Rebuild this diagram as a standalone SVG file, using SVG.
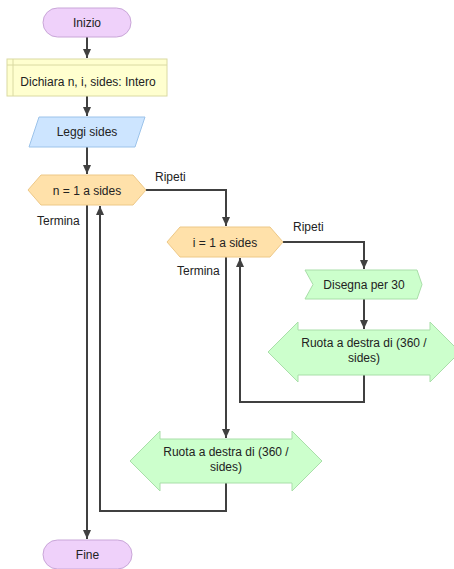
<svg xmlns="http://www.w3.org/2000/svg" width="454" height="569" viewBox="0 0 454 569">
<defs>
<marker id="arr" markerUnits="userSpaceOnUse" markerWidth="10" markerHeight="10" viewBox="0 0 10 10" refX="9" refY="5" orient="auto">
<path d="M0,1 L9,5 L0,9 Z" fill="#404040"/>
</marker>
<style>
text{font-family:"Liberation Sans",Arial,sans-serif;font-size:12px;fill:#222;}
.c{text-anchor:middle;}
.ln{fill:none;stroke:#404040;stroke-width:2;}
.term{fill:#EFD1FA;stroke:#C9A6D8;stroke-width:1;}
.decl{fill:#FFFFCF;stroke:#DADAA2;stroke-width:1;}
.io{fill:#CDE5FF;stroke:#9CC3EA;stroke-width:1;}
.loop{fill:#FFE1AA;stroke:#EDC887;stroke-width:1;}
.proc{fill:#CCFFCC;stroke:#A9DEA9;stroke-width:1;}
</style>
</defs>
<rect width="454" height="569" fill="#fff"/>
<g id="connectors">
<path class="ln" d="M87,37 V58" marker-end="url(#arr)"/>
<path class="ln" d="M87,96 V116" marker-end="url(#arr)"/>
<path class="ln" d="M87,147 V174" marker-end="url(#arr)"/>
<path class="ln" d="M146,190 H226 V226" marker-end="url(#arr)"/>
<path class="ln" d="M283,242 H364 V269" marker-end="url(#arr)"/>
<path class="ln" d="M364,299 V329" marker-end="url(#arr)"/>
<path class="ln" d="M364,375 V402 H240 V258" marker-end="url(#arr)"/>
<path class="ln" d="M226,257 V438" marker-end="url(#arr)"/>
<path class="ln" d="M226,483 V511 H100 V206" marker-end="url(#arr)"/>
<path class="ln" d="M87,205 V539" marker-end="url(#arr)"/>
</g>
<g id="labels">
<text x="155" y="181">Ripeti</text>
<text x="37" y="225">Termina</text>
<text x="293" y="231">Ripeti</text>
<text x="177" y="275">Termina</text>
</g>
<g id="inizio">
<rect class="term" x="43" y="8" width="88" height="29" rx="14.5"/>
<text class="c" x="87" y="26.5">Inizio</text>
</g>
<g id="dichiara">
<rect class="decl" x="7" y="59" width="160" height="37"/>
<path class="decl" d="M7,65 H167 M13,59 V96" fill="none"/>
<text class="c" x="88" y="86">Dichiara n, i, sides: Intero</text>
</g>
<g id="leggi">
<polygon class="io" points="39,117 145,117 135,147 29,147"/>
<text class="c" x="87" y="136">Leggi sides</text>
</g>
<g id="loop-n">
<polygon class="loop" points="28,190 41,175 133,175 146,190 133,205 41,205"/>
<text class="c" x="87" y="194.5">n = 1 a sides</text>
</g>
<g id="loop-i">
<polygon class="loop" points="167,242 180,227 270,227 283,242 270,257 180,257"/>
<text class="c" x="225" y="246.5">i = 1 a sides</text>
</g>
<g id="disegna">
<polygon class="proc" points="305,270 417,270 422,284.5 417,299 305,299 313,284.5"/>
<text class="c" x="364" y="289">Disegna per 30</text>
</g>
<g id="ruota1">
<polygon class="proc" points="268,352 298,322 298,330 430,330 430,322 460,352 430,382 430,375 298,375 298,382"/>
<text class="c" x="364" y="347">Ruota a destra di (360 /</text>
<text class="c" x="364" y="362">sides)</text>
</g>
<g id="ruota2">
<polygon class="proc" points="130,461 160,431 160,439 292,439 292,431 322,461 292,491 292,483 160,483 160,491"/>
<text class="c" x="226" y="456">Ruota a destra di (360 /</text>
<text class="c" x="226" y="471">sides)</text>
</g>
<g id="fine">
<rect class="term" x="43" y="540" width="89" height="29" rx="14.5"/>
<text class="c" x="87.5" y="558.5">Fine</text>
</g>
</svg>
